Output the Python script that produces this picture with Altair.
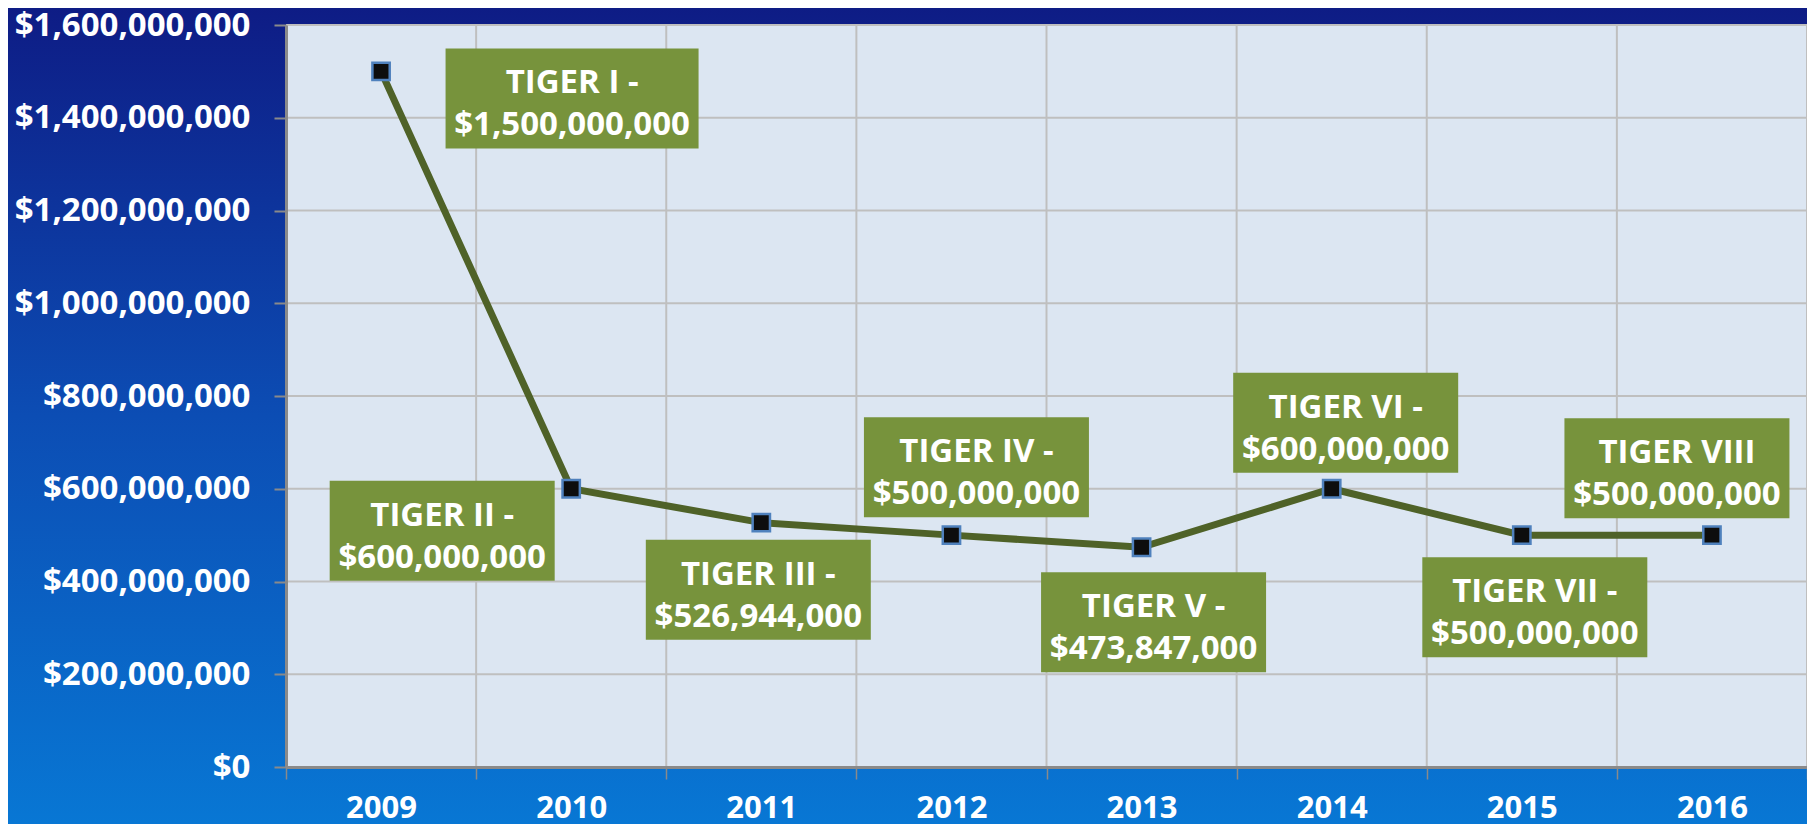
import altair as alt
import pandas as pd

# ---------------- data ----------------
years = [2009, 2010, 2011, 2012, 2013, 2014, 2015, 2016]
grants = [1500000000, 600000000, 526944000, 500000000, 473847000, 600000000, 500000000, 500000000]
rounds = ["TIGER I -", "TIGER II -", "TIGER III -", "TIGER IV -", "TIGER V -",
          "TIGER VI -", "TIGER VII -", "TIGER VIII"]
y_ticks = [0, 200000000, 400000000, 600000000, 800000000,
           1000000000, 1200000000, 1400000000, 1600000000]

# category band edges (grid lines sit between the years)
band_edges = [y - 0.5 for y in years] + [years[-1] + 0.5]

# ---------------- layout / style ----------------
# label box placement: pixel offset of box centre from its point, and box width
label_offsets = [(191, 27, 253), (-129, 42, 225), (-3, 67, 225), (25, -68, 225),
                 (12, 75, 225), (14, -66, 225), (13, 72, 225), (-35, -67, 225)]
BOX_H = 100
LINE_H = 42
FS = 33

W, H = 1521, 742
PAD_L, PAD_T, PAD_B, PAD_R = 278, 17, 57, 0
FONT = "Open Sans"
AXIS_GREY = "#8a8a8a"
GRID_GREY = "#bfbfbf"

df = pd.DataFrame({"year": years, "grant": grants, "round": rounds})
df["label"] = [f"{r}\n${g:,}" for r, g in zip(rounds, grants)]

xscale = alt.Scale(domain=[band_edges[0], band_edges[-1]], nice=False, zero=False)
yscale = alt.Scale(domain=[y_ticks[0], y_ticks[-1]], nice=False)

is_edge = "datum.value % 1 !== 0"
x_axis = alt.Axis(
    values=sorted(years + band_edges),
    format=".0f",
    labelFont=FONT, labelFontSize=31, labelFontWeight="bold", labelColor="white",
    labelOpacity={"condition": {"test": is_edge, "value": 0}, "value": 1},
    labelPadding=14, labelFlush=False, labelOverlap=False, labelLimit=0,
    tickSize=12, tickColor=AXIS_GREY, tickWidth=1.5,
    tickOpacity={"condition": {"test": is_edge, "value": 1}, "value": 0},
    domainColor=AXIS_GREY, domainWidth=3,
    grid=False, title=None, zindex=2,
)
y_axis = alt.Axis(
    values=y_ticks,
    format="$,.0f",
    labelFont=FONT, labelFontSize=33, labelFontWeight="bold", labelColor="white",
    labelPadding=24, labelLimit=0,
    tickSize=12, tickColor=AXIS_GREY, tickWidth=2,
    domainColor=AXIS_GREY, domainWidth=3,
    grid=False, title=None, zindex=2,
)

X = lambda f: alt.X(f, scale=xscale, axis=x_axis)
Y = lambda f: alt.Y(f, scale=yscale, axis=y_axis)

# ---------------- decoration ----------------
bg = alt.Chart(alt.Data(values=[{}])).mark_rect(
    color=alt.Gradient(
        gradient="linear",
        stops=[alt.GradientStop(offset=0, color="#0e1c85"),
               alt.GradientStop(offset=0.5, color="#0c4db4"),
               alt.GradientStop(offset=1, color="#0877d4")],
        x1=0, x2=0, y1=0, y2=1,
    )
).encode(x=alt.value(-PAD_L), x2=alt.value(W + PAD_R),
         y=alt.value(-PAD_T), y2=alt.value(H + PAD_B))

plot_bg = alt.Chart(alt.Data(values=[{}])).mark_rect(color="#dce6f2").encode(
    x=alt.value(0), x2=alt.value(W), y=alt.value(0), y2=alt.value(H))

ygrid = alt.Chart(pd.DataFrame({"grant": y_ticks})).mark_rule(
    color=GRID_GREY, strokeWidth=2).encode(y=Y("grant:Q"))
xgrid = alt.Chart(pd.DataFrame({"year": band_edges})).mark_rule(
    color=GRID_GREY, strokeWidth=2).encode(x=X("year:Q"))

# ---------------- data marks ----------------
base = alt.Chart(df)
line = base.mark_line(color="#4f6228", strokeWidth=7).encode(
    x=X("year:Q"), y=Y("grant:Q"))
points = base.mark_square(size=300, fill="#0d0d0d", stroke="#4f81bd",
                          strokeWidth=2.5, opacity=1).encode(
    x=X("year:Q"), y=Y("grant:Q"))

label_layers = []
for yr, (dx, dy, bw) in zip(years, label_offsets):
    sub = base.transform_filter(alt.datum.year == yr)
    box = sub.mark_rect(
        color="#77933c",
        xOffset=dx - bw / 2, x2Offset=dx + bw / 2,
        yOffset=dy - BOX_H / 2, y2Offset=dy + BOX_H / 2,
    ).encode(x=X("year:Q"), x2="year:Q", y=Y("grant:Q"), y2="grant:Q")
    txt = sub.mark_text(
        dx=dx, dy=dy + 6 - LINE_H / 2, font=FONT, fontSize=FS, fontWeight="bold",
        color="white", align="center", baseline="middle",
        lineBreak="\n", lineHeight=LINE_H,
    ).encode(x=X("year:Q"), y=Y("grant:Q"), text="label:N")
    label_layers += [box, txt]

chart = alt.layer(bg, plot_bg, ygrid, xgrid, line, points, *label_layers).properties(
    width=W, height=H,
    padding={"left": PAD_L, "top": PAD_T, "right": PAD_R, "bottom": PAD_B},
    autosize=alt.AutoSizeParams(type="none"),
    background="#0c4db4",
).configure_view(stroke=None)

chart.save("out.html", embed_options={"renderer": "svg", "actions": False})
